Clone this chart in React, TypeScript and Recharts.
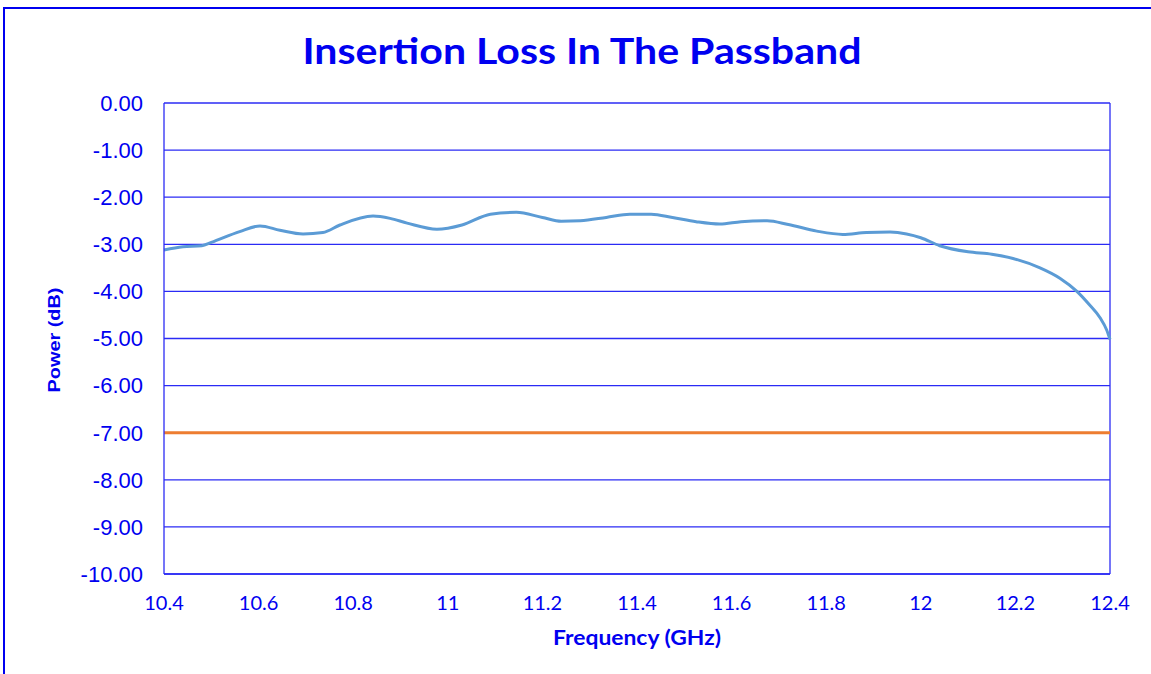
import React from "react";
import { LineChart, Line, XAxis, YAxis, CartesianGrid, ReferenceLine } from "recharts";

// frequency points (GHz)
const freqs = [
  10.4, 10.44, 10.48, 10.5, 10.56, 10.603, 10.645, 10.694, 10.736, 10.772, 10.842, 10.878, 10.914,
  10.977, 11.03, 11.09, 11.145, 11.2, 11.24, 11.28, 11.335, 11.385, 11.43, 11.475, 11.525, 11.575,
  11.62, 11.675, 11.72, 11.78, 11.835, 11.885, 11.935, 11.97, 12.0, 12.04, 12.1, 12.15, 12.195,
  12.252, 12.294, 12.33, 12.357, 12.379, 12.393, 12.4,
];
// insertion loss (dB)
const loss = [
  -3.12, -3.05, -3.03, -2.96, -2.73, -2.61, -2.7, -2.78, -2.75, -2.59, -2.4, -2.45, -2.55,
  -2.68, -2.59, -2.36, -2.32, -2.43, -2.51, -2.5, -2.43, -2.36, -2.36, -2.43, -2.52, -2.57,
  -2.52, -2.5, -2.58, -2.72, -2.79, -2.75, -2.74, -2.78, -2.86, -3.03, -3.16, -3.21, -3.3,
  -3.5, -3.72, -4.0, -4.29, -4.56, -4.82, -5.02,
];
// spec limit line
const limitFreqs = [10.4, 12.4];
const limitValues = [-7, -7];

const xTicks = [10.4, 10.6, 10.8, 11, 11.2, 11.4, 11.6, 11.8, 12, 12.2, 12.4];
const yTicks = [0, -1, -2, -3, -4, -5, -6, -7, -8, -9, -10];

const trace = freqs.map((f, i) => ({ f, loss: loss[i] }));
const limit = limitFreqs.map((f, i) => ({ f, limit: limitValues[i] }));

const BLUE = "#0000f0";
const GRID = "#2b2bf5";

export default function App() {
  return (
    <div style={{ position: "absolute", left: 0, top: 0, width: 1151, height: 674, overflow: "hidden", background: "#fff" }}>
      <div style={{ position: "absolute", left: 3, top: 7, width: 1200, height: 700, border: `2px solid ${BLUE}` }} />
      <div style={{ position: "absolute", left: 0, top: 0 }}>
        <LineChart width={1151} height={674} margin={{ top: 103, right: 41, bottom: 0, left: 0 }}>
          <CartesianGrid stroke={GRID} strokeWidth={1.3} vertical={false} />
          <XAxis
            dataKey="f"
            type="number"
            domain={[10.4, 12.4]}
            ticks={xTicks}
            allowDuplicatedCategory={false}
            height={100}
            tickLine={false}
            tickSize={0}
            tickMargin={22}
            axisLine={{ stroke: GRID, strokeWidth: 1.3 }}
            tick={{ fill: BLUE, fontSize: 20, fontFamily: "Lato" }}
          />
          <YAxis
            type="number"
            domain={[-10, 0]}
            ticks={yTicks}
            width={164}
            tickLine={false}
            tickSize={0}
            tickMargin={21}
            axisLine={{ stroke: GRID, strokeWidth: 1.3 }}
            tickFormatter={(v) => v.toFixed(2)}
            tick={{ fill: BLUE, fontSize: 22, fontFamily: "Liberation Sans" }}
          />
          <ReferenceLine x={12.4} stroke={GRID} strokeWidth={1.3} />
          <Line data={limit} dataKey="limit" type="linear" stroke="#ed7d31" strokeWidth={3} dot={false} isAnimationActive={false} />
          <Line data={trace} dataKey="loss" type="monotone" stroke="#5b9bd5" strokeWidth={3} dot={false} isAnimationActive={false} />
        </LineChart>
      </div>
      <svg width={1151} height={674} style={{ position: "absolute", left: 0, top: 0, pointerEvents: "none" }}>
        <text x={582} y={64} textAnchor="middle" fill={BLUE} fontFamily="Lato" fontWeight="bold" fontSize={36} textLength={559} lengthAdjust="spacingAndGlyphs">
          Insertion Loss In The Passband
        </text>
        <text x={637} y={645} textAnchor="middle" fill={BLUE} fontFamily="Lato" fontWeight="bold" fontSize={20} textLength={168} lengthAdjust="spacingAndGlyphs">
          Frequency (GHz)
        </text>
        <text x={60} y={340} transform="rotate(-90 60 340)" textAnchor="middle" fill={BLUE} fontFamily="Liberation Sans" fontWeight="bold" fontSize={17} textLength={105} lengthAdjust="spacingAndGlyphs">
          Power (dB)
        </text>
      </svg>
    </div>
  );
}
